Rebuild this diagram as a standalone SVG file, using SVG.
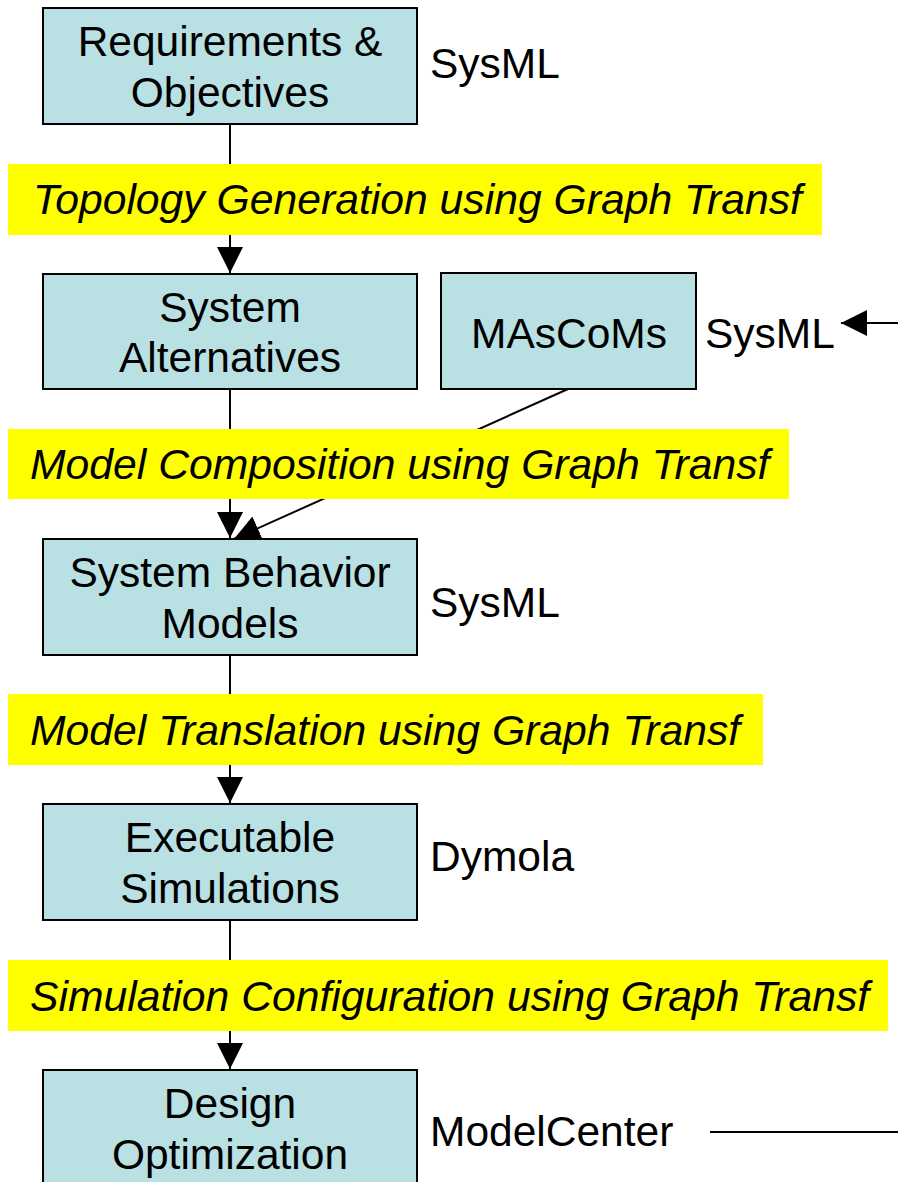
<svg xmlns="http://www.w3.org/2000/svg" width="898" height="1182" viewBox="0 0 898 1182">
<style>
.box{fill:#B9E0E3;stroke:#000;stroke-width:2}
.band{fill:#FFFF00}
.t{font-family:"Liberation Sans",Arial,sans-serif;font-size:42.5px;fill:#000}
.c{text-anchor:middle}
.i{font-family:"Liberation Sans",Arial,sans-serif;font-size:42.7px;font-style:italic;fill:#000}
.ln{stroke:#000;stroke-width:2;fill:none}
</style>
<defs>
<marker id="ah" viewBox="0 0 26 26" refX="26" refY="13" markerWidth="26" markerHeight="26" markerUnits="userSpaceOnUse" orient="auto">
<path d="M0,0 L26,13 L0,26 Z" fill="#000"/>
</marker>
</defs>
<g id="connectors">
<line class="ln" x1="230" y1="124" x2="230" y2="273" marker-end="url(#ah)"/>
<line class="ln" x1="230" y1="389" x2="230" y2="538" marker-end="url(#ah)"/>
<line class="ln" x1="568" y1="389" x2="234" y2="539" marker-end="url(#ah)"/>
<line class="ln" x1="230" y1="655" x2="230" y2="803" marker-end="url(#ah)"/>
<line class="ln" x1="230" y1="920" x2="230" y2="1069" marker-end="url(#ah)"/>
<line class="ln" x1="898" y1="323" x2="841" y2="323" marker-end="url(#ah)"/>
<line class="ln" x1="710" y1="1132" x2="898" y2="1132"/>
</g>
<g id="band1"><rect class="band" x="8" y="164" width="814" height="71"/><text class="i" x="33" y="214">Topology Generation using Graph Transf</text></g>
<g id="band2"><rect class="band" x="8" y="429" width="781" height="70"/><text class="i" x="30" y="479">Model Composition using Graph Transf</text></g>
<g id="band3"><rect class="band" x="8" y="694" width="755" height="71"/><text class="i" x="30" y="745">Model Translation using Graph Transf</text></g>
<g id="band4"><rect class="band" x="8" y="960" width="880" height="71"/><text class="i" x="30" y="1011">Simulation Configuration using Graph Transf</text></g>
<g id="req"><rect class="box" x="43" y="8" width="374" height="116"/><text class="t c" x="230" y="56">Requirements &amp;</text><text class="t c" x="230" y="107">Objectives</text></g>
<g id="alt"><rect class="box" x="43" y="274" width="374" height="115"/><text class="t c" x="230" y="322">System</text><text class="t c" x="230" y="372">Alternatives</text></g>
<g id="mascoms"><rect class="box" x="441" y="273" width="255" height="116"/><text class="t c" x="569" y="348">MAsCoMs</text></g>
<g id="beh"><rect class="box" x="43" y="539" width="374" height="116"/><text class="t c" x="230" y="587">System Behavior</text><text class="t c" x="230" y="638">Models</text></g>
<g id="exec"><rect class="box" x="43" y="804" width="374" height="116"/><text class="t c" x="230" y="852">Executable</text><text class="t c" x="230" y="903">Simulations</text></g>
<g id="opt"><rect class="box" x="43" y="1070" width="374" height="130"/><text class="t c" x="230" y="1118">Design</text><text class="t c" x="230" y="1169">Optimization</text></g>
<g id="labels">
<text class="t" x="430" y="78">SysML</text>
<text class="t" x="705" y="348">SysML</text>
<text class="t" x="430" y="617">SysML</text>
<text class="t" x="430" y="871">Dymola</text>
<text class="t" x="430" y="1146">ModelCenter</text>
</g>
</svg>
